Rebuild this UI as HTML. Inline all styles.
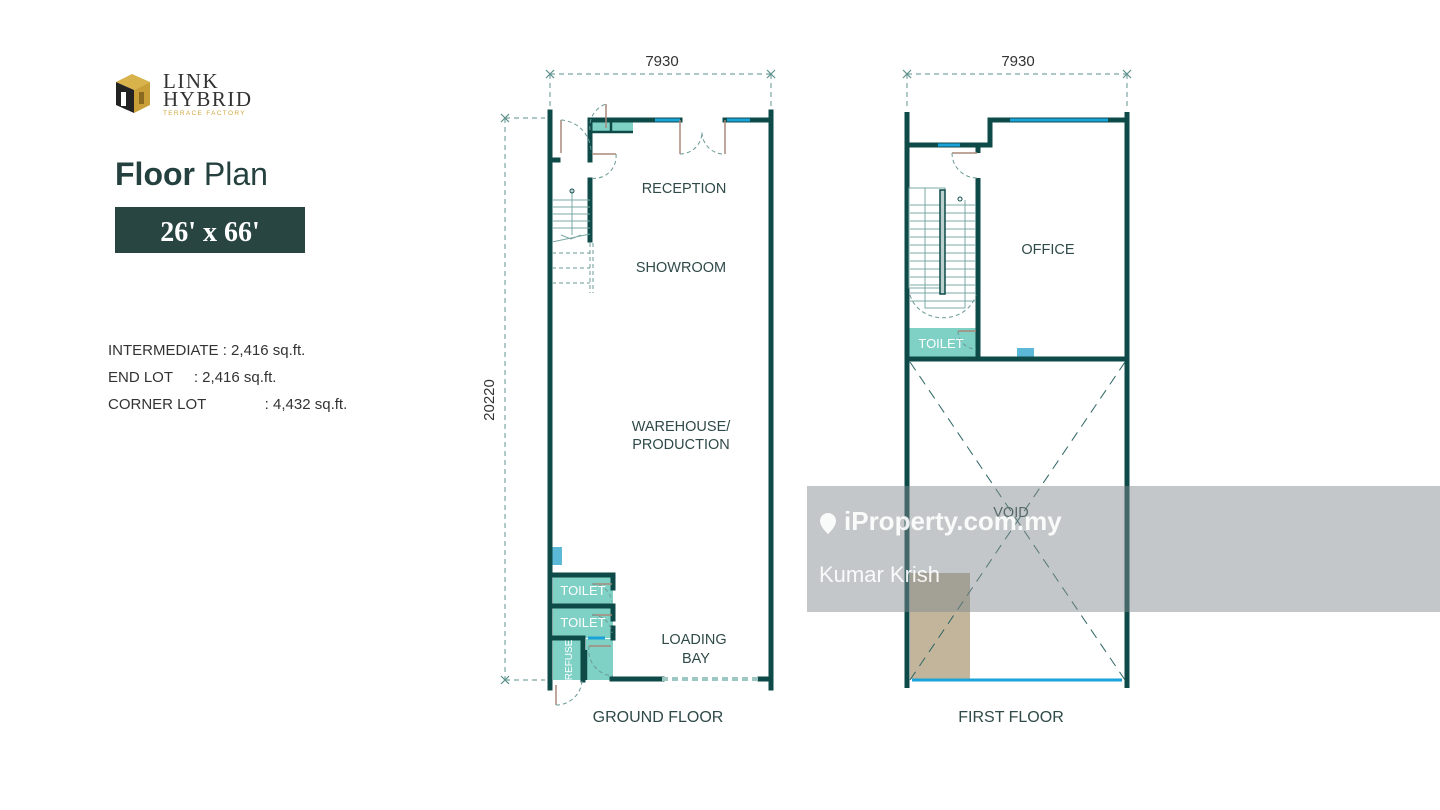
<!DOCTYPE html>
<html><head><meta charset="utf-8"><style>
html,body{margin:0;padding:0;background:#fff;width:1440px;height:810px;overflow:hidden}
svg{display:block}
</style></head><body>
<svg width="1440" height="810" viewBox="0 0 1440 810" xmlns="http://www.w3.org/2000/svg" font-family="Liberation Sans, sans-serif">
<rect width="1440" height="810" fill="#fff"/>
<!-- logo -->
<g>
<polygon points="116,82 132,74 150,82 134,90" fill="#d8b24a"/>
<polygon points="116,82 134,90 134,113 116,105" fill="#222"/>
<polygon points="134,90 150,82 150,105 134,113" fill="#c9a038"/>
<rect x="121" y="92" width="5" height="14" fill="#fff"/>
<rect x="139" y="92" width="5" height="12" fill="#8a6a20"/>
</g>
<text x="163" y="88" font-family="Liberation Serif, serif" font-size="21" fill="#333" letter-spacing="1.5">LINK</text>
<text x="163" y="106" font-family="Liberation Serif, serif" font-size="21" fill="#333" letter-spacing="1.5">HYBRID</text>
<text x="163" y="115" font-size="6.5" fill="#d0a840" letter-spacing="1.3">TERRACE FACTORY</text>
<text x="115" y="185" font-size="32" fill="#24413f"><tspan font-weight="bold">Floor</tspan> Plan</text>
<rect x="115" y="207" width="190" height="46" fill="#284541"/>
<text x="210" y="241" text-anchor="middle" font-family="Liberation Serif, serif" font-weight="bold" font-size="28" fill="#fff">26' x 66'</text>
<g font-size="15" fill="#333">
<text x="108" y="355">INTERMEDIATE : 2,416 sq.ft.</text>
<text x="108" y="382">END LOT&#160;&#160;&#160;&#160;&#160;: 2,416 sq.ft.</text>
<text x="108" y="409">CORNER LOT&#160;&#160;&#160;&#160;&#160;&#160;&#160;&#160;&#160;&#160;&#160;&#160;&#160;&#160;: 4,432 sq.ft.</text>
</g>

<!-- dimensions -->
<g stroke="#7aa8a4" stroke-width="1.2" stroke-dasharray="5,4" fill="none">
<line x1="550" y1="74" x2="771" y2="74"/>
<line x1="550" y1="74" x2="550" y2="110"/>
<line x1="771" y1="74" x2="771" y2="110"/>
<line x1="505" y1="118" x2="505" y2="680"/>
<line x1="505" y1="118" x2="545" y2="118"/>
<line x1="505" y1="680" x2="545" y2="680"/>
<line x1="907" y1="74" x2="1127" y2="74"/>
<line x1="907" y1="74" x2="907" y2="110"/>
<line x1="1127" y1="74" x2="1127" y2="110"/>
</g>
<g stroke="#5a8f8a" stroke-width="1.2">
<path d="M546,70l8,8M554,70l-8,8M767,70l8,8M775,70l-8,8M501,114l8,8M509,114l-8,8M501,676l8,8M509,676l-8,8M903,70l8,8M911,70l-8,8M1123,70l8,8M1131,70l-8,8"/>
</g>
<text x="662" y="66" text-anchor="middle" font-size="15" fill="#333">7930</text>
<text x="1018" y="66" text-anchor="middle" font-size="15" fill="#333">7930</text>
<text transform="translate(494,400) rotate(-90)" text-anchor="middle" font-size="15" fill="#333">20220</text>

<!-- GROUND FLOOR -->
<g fill="#7fd1c5">
<rect x="590" y="118" width="43" height="14"/>
<rect x="553" y="575" width="60" height="31"/>
<rect x="553" y="607" width="60" height="31"/>
<rect x="553" y="639" width="30" height="41"/>
<rect x="586" y="639" width="27" height="41"/>
</g>
<rect x="552" y="547" width="10" height="18" fill="#5bb8d6"/>
<g stroke="#0d4a48" stroke-width="5" fill="none" stroke-linecap="square">
<line x1="550" y1="112" x2="550" y2="688"/>
<line x1="771" y1="112" x2="771" y2="688"/>
<path d="M550,160h8"/>
<path d="M590,160V120h43"/>
<path d="M635,120h45"/><path d="M725,120h46"/>
<line x1="590" y1="180" x2="590" y2="240"/>
<path d="M553,575h60v13"/><path d="M553,606h60v13"/><path d="M553,638h30v42"/><path d="M613,628v10"/>
<path d="M612,679h50"/><path d="M760,679h11"/>
</g>
<g stroke="#0d4a48" stroke-width="2.5"><line x1="590" y1="132" x2="633" y2="132"/><line x1="611" y1="119" x2="611" y2="132"/><path d="M586,650v30"/></g>
<g stroke="#1aa3d8" stroke-width="3"><line x1="655" y1="120" x2="680" y2="120"/><line x1="727" y1="120" x2="750" y2="120"/><line x1="588" y1="638" x2="605" y2="638"/></g>
<line x1="662" y1="679" x2="760" y2="679" stroke="#9cc7c2" stroke-width="4" stroke-dasharray="6,4"/>
<g stroke="#a8887a" stroke-width="1.5" fill="none">
<path d="M561,120v33"/><path d="M606,104v24"/><path d="M592,154h24"/>
<path d="M680,120v34"/><path d="M725,120v34"/>
<path d="M592,584h20"/><path d="M592,615h20"/><path d="M589,646h22"/><path d="M556,685v20"/>
</g>
<g stroke="#6a9a96" stroke-width="1" stroke-dasharray="4,3" fill="none">
<path d="M561,120a32,32 0 0 1 30,33"/><path d="M590,130a24,24 0 0 1 16,-26"/><path d="M616,154a22,22 0 0 1 -26,24"/>
<path d="M680,154a22,22 0 0 0 22,-22a22,22 0 0 0 23,22"/>
<path d="M592,584a20,20 0 0 1 20,18"/><path d="M592,615a20,20 0 0 1 20,18"/><path d="M589,646a26,26 0 0 0 24,30"/><path d="M556,705a26,26 0 0 0 26,-24"/>
<path d="M552,253h38M552,268h38M552,283h38M590,243v50M593,243v50"/>
</g>
<g stroke="#7aa8a4" stroke-width="1" fill="none">
<path d="M552,200h38M552,207h38M552,214h38M552,221h38M552,228h38M572,190v45M552,242l38,-8M561,235l10,4l10,-4"/>
</g>
<circle cx="572" cy="191" r="2" fill="none" stroke="#0d4a48"/>

<!-- FIRST FLOOR -->
<rect x="909" y="328" width="68" height="30" fill="#7fd1c5"/>
<rect x="1017" y="348" width="17" height="10" fill="#5bb8d6"/>
<rect x="910" y="573" width="60" height="106" fill="#c2b59b"/>
<g stroke="#0d4a48" stroke-width="5" fill="none">
<line x1="907" y1="112" x2="907" y2="688"/>
<line x1="1127" y1="112" x2="1127" y2="688"/>
<path d="M907,145h83V120h137"/>
<line x1="978" y1="178" x2="978" y2="358"/>
<path d="M907,359h220"/>
<path d="M978,145v8"/>
</g>
<g stroke="#1aa3d8" stroke-width="3"><line x1="938" y1="145" x2="960" y2="145"/><line x1="1010" y1="120" x2="1108" y2="120"/><line x1="912" y1="680" x2="1122" y2="680"/></g>
<g stroke="#a8887a" stroke-width="1.5" fill="none"><path d="M952,153h25"/><path d="M958,331h18"/></g>
<g stroke="#6a9a96" stroke-width="1" stroke-dasharray="4,3" fill="none">
<path d="M952,153a25,25 0 0 0 25,25"/><path d="M958,331a18,18 0 0 0 18,18"/>
<path d="M910,295a34,30 0 0 0 66,0"/>
<line x1="910" y1="362" x2="1125" y2="680" stroke="#2f6663" stroke-dasharray="10,7"/>
<line x1="1125" y1="362" x2="910" y2="680" stroke="#2f6663" stroke-dasharray="10,7"/>
</g>
<g stroke="#7aa8a4" stroke-width="1" fill="none">
<rect x="909" y="188" width="36" height="100"/>
<path d="M910,205h66M910,213h66M910,221h66M910,229h66M910,237h66M910,245h66M910,253h66M910,261h66M910,269h66M910,277h66M910,285h66M910,293h66M910,301h66M925,188v120h40V200"/>
</g>
<rect x="940" y="190" width="5" height="104" fill="#bcd0ce" stroke="#0d4a48" stroke-width="1.5"/>
<circle cx="960" cy="199" r="2" fill="none" stroke="#0d4a48"/>

<g font-size="14.5" fill="#2f4a48" text-anchor="middle">
<text x="684" y="193">RECEPTION</text>
<text x="681" y="272">SHOWROOM</text>
<text x="681" y="431">WAREHOUSE/</text>
<text x="681" y="449">PRODUCTION</text>
<text x="694" y="644">LOADING</text>
<text x="696" y="663">BAY</text>
<text x="658" y="722" font-size="16">GROUND FLOOR</text>
<text x="1011" y="722" font-size="16">FIRST FLOOR</text>
<text x="1048" y="254">OFFICE</text>
<text x="1011" y="517">VOID</text>
</g>
<g font-size="13" fill="#fff" text-anchor="middle">
<text x="583" y="595">TOILET</text>
<text x="583" y="627">TOILET</text>
<text x="941" y="348">TOILET</text>
<text transform="translate(572,660) rotate(-90)" font-size="10">REFUSE</text>
</g>

<!-- watermark -->
<rect x="807" y="486" width="633" height="126" fill="rgb(130,137,143)" fill-opacity="0.48"/>
<g fill="#fff" fill-opacity="0.9">
<path d="M820,521a8,8 0 0 1 16,0c0,6 -8,13 -8,13c0,0 -8,-7 -8,-13z"/>
<text x="844" y="530" font-size="26" font-weight="bold">iProperty.com.my</text>
<text x="819" y="582" font-size="22">Kumar Krish</text>
</g>
</svg>
</body></html>
